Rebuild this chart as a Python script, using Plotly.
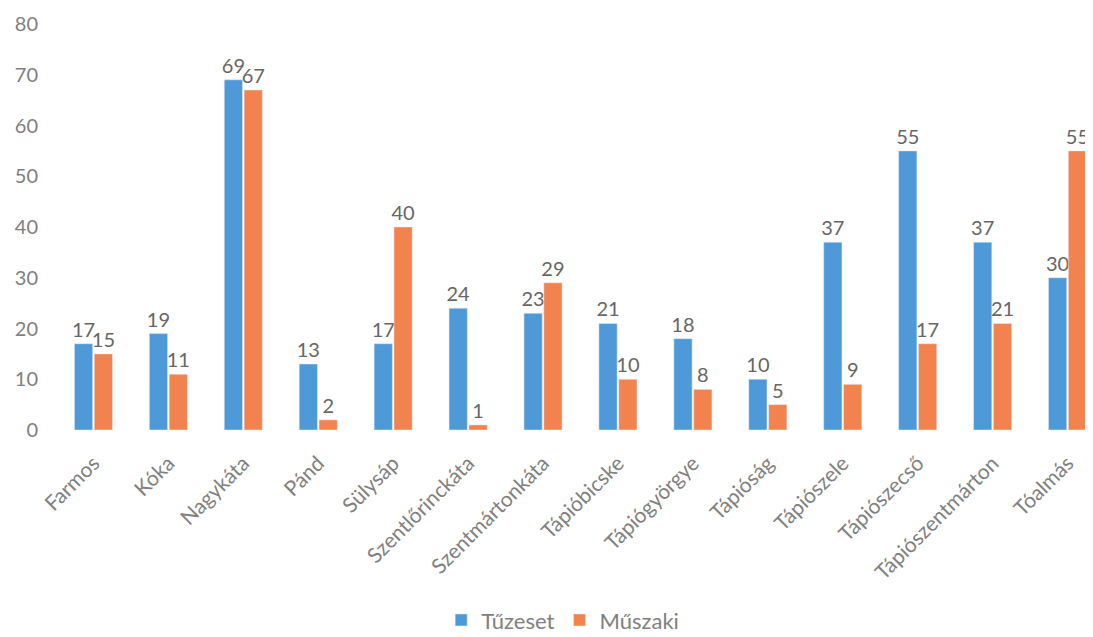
import plotly.graph_objects as go

categories = ["Farmos", "Kóka", "Nagykáta", "Pánd", "Sülysáp", "Szentlőrinckáta",
              "Szentmártonkáta", "Tápióbicske", "Tápiógyörgye", "Tápióság",
              "Tápiószele", "Tápiószecső", "Tápiószentmárton", "Tóalmás"]
tuzeset = [17, 19, 69, 13, 17, 24, 23, 21, 18, 10, 37, 55, 37, 30]
muszaki = [15, 11, 67, 2, 40, 1, 29, 10, 8, 5, 9, 17, 21, 55]
y_ticks = [0, 10, 20, 30, 40, 50, 60, 70, 80]

FONT = "Lato"
GREY = "#808080"

fig = go.Figure()
fig.add_trace(go.Bar(name="Tűzeset", x=categories, y=tuzeset, marker_color="#4E9AD8",
                     text=tuzeset, textposition="outside", cliponaxis=False,
                     textfont=dict(size=20, color="#666666", family=FONT)))
fig.add_trace(go.Bar(name="Műszaki", x=categories, y=muszaki, marker_color="#F2834F",
                     text=muszaki, textposition="outside", cliponaxis=False,
                     textfont=dict(size=20, color="#666666", family=FONT)))

fig.update_layout(
    width=1100, height=637,
    margin=dict(l=48, r=3, t=14, b=215),
    paper_bgcolor="white", plot_bgcolor="white",
    barmode="group", bargap=0.47, bargroupgap=0.08,
    font=dict(family=FONT, color=GREY, size=20),
    showlegend=True,
    legend=dict(orientation="h", x=0.483, xanchor="center", y=-0.52, yanchor="bottom",
                font=dict(size=22, color=GREY, family=FONT)),
    uniformtext=dict(minsize=20, mode="show"),
)
fig.update_xaxes(tickangle=-45, showgrid=False, showline=False, ticks="",
                 ticklabelstandoff=16,
                 tickfont=dict(size=21, color=GREY, family=FONT))
fig.update_yaxes(range=[0, 80], tickvals=y_ticks, showgrid=False, zeroline=False,
                 showline=False, ticks="", ticklabelstandoff=17,
                 tickfont=dict(size=20, color=GREY, family=FONT))

fig.write_html("out.html")
